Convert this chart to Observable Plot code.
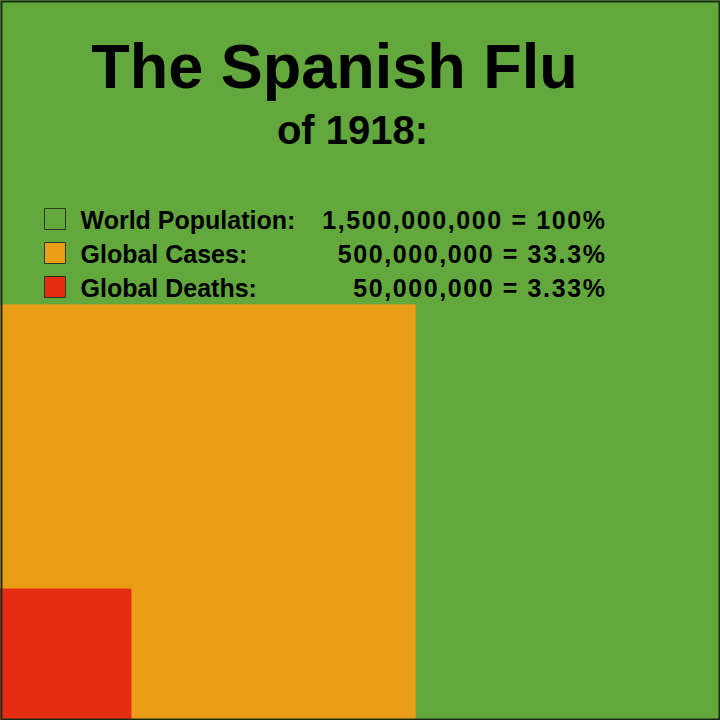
<!DOCTYPE html>
<html>
<head>
<meta charset="utf-8">
<script src="https://cdn.jsdelivr.net/npm/d3@7"></script>
<script src="https://cdn.jsdelivr.net/npm/@observablehq/plot@0.6"></script>
<style>
  html, body { margin: 0; padding: 0; background: #63a83d; }
  #chart svg { display: block; }
</style>
</head>
<body>
<div id="chart"></div>
<script>
const titleLines = ["The Spanish Flu", "of 1918:"];
const categories = ["World Population:", "Global Cases:", "Global Deaths:"];
const values = [1500000000, 500000000, 50000000];
const valueLabels = ["1,500,000,000 = 100%", "500,000,000 = 33.3%", "50,000,000 = 3.33%"];
const colors = ["#63a83d", "#ea9e18", "#e52d13"];

const rows = categories.map((c, i) => ({
  category: c,
  value: values[i],
  side: Math.sqrt(values[i]),
  label: valueLabels[i]
}));

const maxSide = Math.sqrt(d3.max(values));
const font = "'Comic Sans MS', 'Liberation Sans', Arial, sans-serif";

const legendMarks = rows.flatMap((r, i) => [
  Plot.dot([r], {
    frameAnchor: "top-left", dx: 54.5, dy: 218.5 + i * 34,
    symbol: "square", r: 11.85, fill: "category", stroke: "#2a3a20", strokeWidth: 1
  }),
  Plot.text([r], {
    frameAnchor: "top-left", dx: 80, dy: 220 + i * 34, text: "category",
    textAnchor: "start", lineAnchor: "middle", fontSize: 25, fontWeight: "bold",
    fontFamily: font, fill: "black"
  }),
  Plot.text([r], {
    frameAnchor: "top-left", dx: 606, dy: 220 + i * 34, text: "label",
    textAnchor: "end", lineAnchor: "middle", fontSize: 25, fontWeight: "bold",
    fontFamily: font, fill: "black"
  })
]);

const chart = Plot.plot({
  width: 720,
  height: 720,
  margin: 0,
  style: { background: "transparent", overflow: "visible" },
  x: { domain: [0, maxSide], axis: null },
  y: { domain: [0, maxSide], axis: null },
  color: { domain: categories, range: colors },
  marks: [
    Plot.rect(rows, { x1: 0, x2: "side", y1: 0, y2: "side", fill: "category" }),
    Plot.text([titleLines[0]], {
      frameAnchor: "top", dx: -26, dy: 87, text: d => d, lineAnchor: "bottom",
      fontSize: 63, fontWeight: "bold", fontFamily: font, fill: "black"
    }),
    Plot.text([titleLines[1]], {
      frameAnchor: "top", dx: -8, dy: 143, text: d => d, lineAnchor: "bottom",
      fontSize: 40, fontWeight: "bold", fontFamily: font, fill: "black"
    }),
    ...legendMarks,
    Plot.frame({ stroke: "#1e2a18", strokeWidth: 2, inset: 1 })
  ]
});

d3.select(chart).selectAll("text")
  .filter(function () { return valueLabels.includes(this.textContent); })
  .style("letter-spacing", "1.6px");

document.getElementById("chart").appendChild(chart);
</script>
</body>
</html>
